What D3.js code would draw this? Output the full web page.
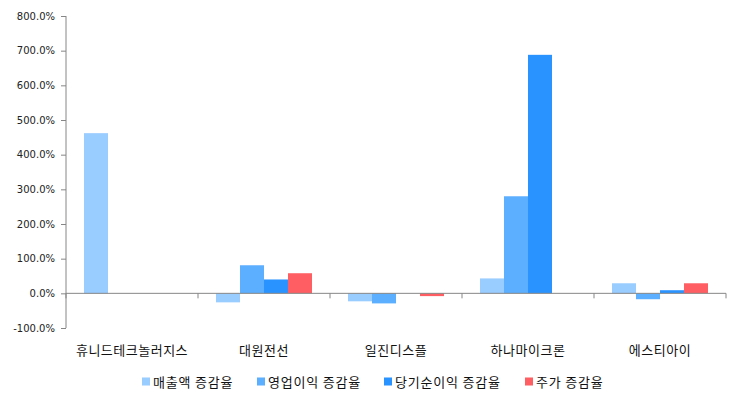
<!DOCTYPE html>
<html>
<head>
<meta charset="utf-8">
<script src="https://cdn.jsdelivr.net/npm/d3@7"></script>
<style>
  body { margin: 0; background: #fff; }
  text { font-family: "Noto Sans CJK KR", "DejaVu Sans", sans-serif; }
</style>
</head>
<body>
<div id="chart"></div>
<script>
// Categories and series (values in %)
const categories = ["휴니드테크놀러지스", "대원전선", "일진디스플", "하나마이크론", "에스티아이"];
const seriesNames = ["매출액 증감율", "영업이익 증감율", "당기순이익 증감율", "주가 증감율"];
const salesGrowth = [462, -26, -23, 43, 29];
const opGrowth = [null, 81, -29, 280, -17];
const netGrowth = [null, 40, null, 688, 9];
const stockGrowth = [null, 58, -8, null, 29];
const yTicks = [-100, 0, 100, 200, 300, 400, 500, 600, 700, 800];

const colors = ["#99ccff", "#5caeff", "#2993ff", "#ff5e62"];
const series = [salesGrowth, opGrowth, netGrowth, stockGrowth];

const width = 743, height = 403;
const margin = { left: 66, right: 17, top: 16, bottom: 75 };

const svg = d3.select("#chart").append("svg")
    .attr("width", width)
    .attr("height", height);

const x = d3.scaleBand()
    .domain(categories)
    .range([margin.left, width - margin.right])
    .paddingInner(0)
    .paddingOuter(0);

// bars sit side by side, with a gap of 3/4 bar width at each side of the group
const xInner = d3.scaleBand()
    .domain(d3.range(series.length))
    .range([0, x.bandwidth()])
    .paddingInner(0)
    .paddingOuter(0.75);

const y = d3.scaleLinear()
    .domain([-100, 800])
    .range([height - margin.bottom, margin.top]);

// Bars
categories.forEach((c, i) => {
    series.forEach((s, j) => {
        const v = s[i];
        if (v === null) return;
        svg.append("rect")
            .attr("x", x(c) + xInner(j))
            .attr("width", xInner.bandwidth())
            .attr("y", y(Math.max(0, v)))
            .attr("height", Math.abs(y(v) - y(0)))
            .attr("fill", colors[j]);
    });
});

// Y axis
const yAxis = svg.append("g")
    .attr("transform", `translate(${margin.left},0)`)
    .call(d3.axisLeft(y).tickValues(yTicks).tickSize(5).tickPadding(6)
        .tickFormat(d => d.toFixed(1) + "%"));
yAxis.selectAll("text")
    .style("font-family", "DejaVu Sans")
    .style("font-size", "10px")
    .attr("fill", "#222");
yAxis.selectAll("line, path").attr("stroke", "#868686");
yAxis.select("path").attr("d", `M0,${y(-100)}V${y(800)}`);

// X axis line at zero with ticks at category boundaries
const zeroY = y(0);
svg.append("line")
    .attr("x1", margin.left).attr("x2", width - margin.right)
    .attr("y1", zeroY).attr("y2", zeroY)
    .attr("stroke", "#868686");
const bounds = categories.map(c => x(c)).concat([x(categories[categories.length - 1]) + x.bandwidth()]);
svg.selectAll(".xtick")
    .data(bounds)
    .enter().append("line")
    .attr("x1", d => d).attr("x2", d => d)
    .attr("y1", zeroY).attr("y2", zeroY + 5)
    .attr("stroke", "#868686");

// Category labels
svg.selectAll(".cat")
    .data(categories)
    .enter().append("text")
    .attr("x", d => x(d) + x.bandwidth() / 2)
    .attr("y", 355)
    .attr("text-anchor", "middle")
    .style("font-size", "13px")
    .style("letter-spacing", "0.5px")
    .attr("fill", "#111")
    .text(d => d);

// Legend
const legendX = [142, 257, 384, 525];
const legend = svg.selectAll(".legend")
    .data(seriesNames)
    .enter().append("g")
    .attr("transform", (d, i) => `translate(${legendX[i]},382)`);
legend.append("rect")
    .attr("x", 0).attr("y", -4.5)
    .attr("width", 8).attr("height", 8)
    .attr("fill", (d, i) => colors[i]);
legend.append("text")
    .attr("x", 11).attr("y", 4.5)
    .style("font-size", "13px")
    .style("letter-spacing", "0.8px")
    .attr("fill", "#111")
    .text(d => d);
</script>
</body>
</html>
